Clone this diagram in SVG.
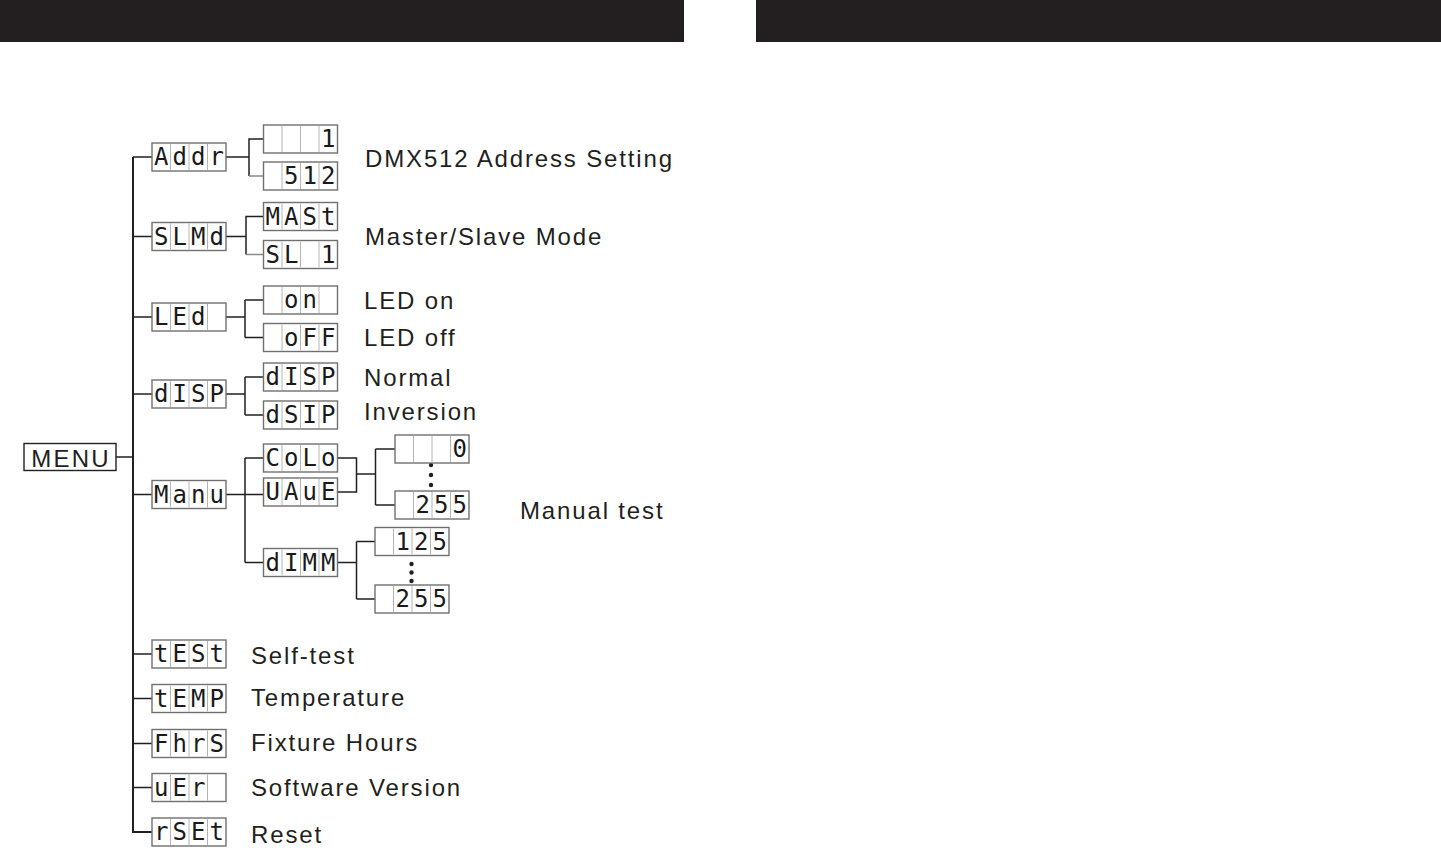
<svg xmlns="http://www.w3.org/2000/svg" xmlns:xlink="http://www.w3.org/1999/xlink" width="1441" height="848" viewBox="0 0 1441 848">
<style>
.bar{fill:#231f20}
.lbl{font-family:"Liberation Sans",Arial,sans-serif;font-size:24px;letter-spacing:1.85px;fill:#231f20}
.seg{font-family:"DejaVu Sans Mono",monospace;font-size:24px;fill:#1a1a1a;text-anchor:middle}
.frame{fill:#fff;stroke:#707070;stroke-width:1.4}
.div{stroke:#b4b4b4;stroke-width:1}
.con{fill:none;stroke:#231f20;stroke-width:1.5}
.con2{fill:none;stroke:#8a8a8a;stroke-width:1.5}
.trunk{fill:none;stroke:#231f20;stroke-width:2}
.dot{fill:#231f20}
</style>
<defs>
<g id="box">
<rect class="frame" x="0" y="0" width="74" height="28"/>
<line class="div" x1="18.5" y1="1" x2="18.5" y2="27"/>
<line class="div" x1="37" y1="1" x2="37" y2="27"/>
<line class="div" x1="55.5" y1="1" x2="55.5" y2="27"/>
</g>
</defs>
<rect class="bar" x="0" y="0" width="684" height="42"/>
<rect class="bar" x="756" y="0" width="685" height="42"/>

<g id="connectors">
<path class="trunk" d="M133 157 V832 H152"/>
<path class="con" d="M116 457 H133"/>
<path class="con" d="M133 157 H152 M133 236.5 H152 M133 317 H152 M133 394 H152 M133 494.5 H152 M133 654 H152 M133 698.5 H152 M133 743.5 H152 M133 787.5 H152"/>
<path class="con" d="M226 157 H249 M249 176 V139 H263.5"/>
<path class="con2" d="M249 176 H263.5"/>
<path class="con" d="M226 236.5 H246 M246 254.5 V216.5 H263.5"/>
<path class="con2" d="M246 254.5 H263.5"/>
<path class="con" d="M226 317 H245 M245 300 V337.5 M245 300 H263.5 M245 337.5 H263.5"/>
<path class="con" d="M226 394 H245 M245 377 V415 M245 377 H263.5 M245 415 H263.5"/>
<path class="con" d="M226 494.5 H263.5 M245 458 V562.5 M245 458 H263.5 M245 562.5 H263.5"/>
<path class="con" d="M337.5 458 H356.5 V492 H337.5 M356.5 474 H375.5 M375.5 449 V505 M375.5 449 H395 M375.5 505 H395"/>
<path class="con" d="M337.5 562.5 H356.5 M356.5 541.5 V599 M356.5 541.5 H375 M356.5 599 H375"/>
<circle class="dot" cx="431" cy="465" r="2.2"/>
<circle class="dot" cx="431" cy="475" r="2.2"/>
<circle class="dot" cx="431" cy="485" r="2.2"/>
<circle class="dot" cx="411.5" cy="564" r="2.2"/>
<circle class="dot" cx="411.5" cy="572.5" r="2.2"/>
<circle class="dot" cx="411.5" cy="581" r="2.2"/>
</g>

<g id="menu">
<rect x="24" y="443.5" width="92" height="27" fill="#fff" stroke="#231f20" stroke-width="1.4"/>
<text class="lbl" x="71" y="466.5" text-anchor="middle" style="font-size:24px;letter-spacing:2.2px">MENU</text>
</g>

<g id="addr"><use xlink:href="#box" x="152" y="143"/><text class="seg" x="161.3 179.8 198.3 216.8" y="165">Addr</text></g>
<g id="addr-1"><use xlink:href="#box" x="263.5" y="125"/><text class="seg" x="328.3" y="147">1</text></g>
<g id="addr-512"><use xlink:href="#box" x="263.5" y="162"/><text class="seg" x="291.3 309.8 328.3" y="184">512</text></g>
<text class="lbl" x="365" y="167">DMX512 Address Setting</text>

<g id="slmd"><use xlink:href="#box" x="152" y="222.5"/><text class="seg" x="161.3 179.8 198.3 216.8" y="244.5">SLMd</text></g>
<g id="mast"><use xlink:href="#box" x="263.5" y="202.5"/><text class="seg" x="272.8 291.3 309.8 328.3" y="224.5">MASt</text></g>
<g id="sl1"><use xlink:href="#box" x="263.5" y="240.5"/><text class="seg" x="272.8 291.3 328.3" y="262.5">SL1</text></g>
<text class="lbl" x="365" y="245">Master/Slave Mode</text>

<g id="led"><use xlink:href="#box" x="152" y="303"/><text class="seg" x="161.3 179.8 198.3" y="325">LEd</text></g>
<g id="on"><use xlink:href="#box" x="263.5" y="286"/><text class="seg" x="291.3 309.8" y="308">on</text></g>
<g id="off"><use xlink:href="#box" x="263.5" y="323.5"/><text class="seg" x="291.3 309.8 328.3" y="345.5">oFF</text></g>
<text class="lbl" x="364" y="309">LED on</text>
<text class="lbl" x="364" y="346">LED off</text>

<g id="disp"><use xlink:href="#box" x="152" y="380"/><text class="seg" x="161.3 179.8 198.3 216.8" y="402">dISP</text></g>
<g id="disp-n"><use xlink:href="#box" x="263.5" y="363"/><text class="seg" x="272.8 291.3 309.8 328.3" y="385">dISP</text></g>
<g id="dsip"><use xlink:href="#box" x="263.5" y="401"/><text class="seg" x="272.8 291.3 309.8 328.3" y="423">dSIP</text></g>
<text class="lbl" x="364" y="386">Normal</text>
<text class="lbl" x="364" y="420">Inversion</text>

<g id="manu"><use xlink:href="#box" x="152" y="480.5"/><text class="seg" x="161.3 179.8 198.3 216.8" y="502.5">Manu</text></g>
<g id="colo"><use xlink:href="#box" x="263.5" y="444"/><text class="seg" x="272.8 291.3 309.8 328.3" y="466">CoLo</text></g>
<g id="uaue"><use xlink:href="#box" x="263.5" y="478"/><text class="seg" x="272.8 291.3 309.8 328.3" y="500">UAuE</text></g>
<g id="dimm"><use xlink:href="#box" x="263.5" y="548.5"/><text class="seg" x="272.8 291.3 309.8 328.3" y="570.5">dIMM</text></g>
<g id="val-0"><use xlink:href="#box" x="395" y="435"/><text class="seg" x="459.8" y="457">0</text></g>
<g id="val-255"><use xlink:href="#box" x="395" y="491"/><text class="seg" x="422.8 441.3 459.8" y="513">255</text></g>
<g id="dim-125"><use xlink:href="#box" x="375" y="527.5"/><text class="seg" x="402.8 421.3 439.8" y="549.5">125</text></g>
<g id="dim-255"><use xlink:href="#box" x="375" y="585"/><text class="seg" x="402.8 421.3 439.8" y="607">255</text></g>
<text class="lbl" x="520" y="519">Manual test</text>

<g id="test"><use xlink:href="#box" x="152" y="640"/><text class="seg" x="161.3 179.8 198.3 216.8" y="662">tESt</text></g>
<text class="lbl" x="251" y="664">Self-test</text>
<g id="temp"><use xlink:href="#box" x="152" y="684.5"/><text class="seg" x="161.3 179.8 198.3 216.8" y="706.5">tEMP</text></g>
<text class="lbl" x="251" y="706">Temperature</text>
<g id="fhrs"><use xlink:href="#box" x="152" y="729.5"/><text class="seg" x="161.3 179.8 198.3 216.8" y="751.5">FhrS</text></g>
<text class="lbl" x="251" y="751">Fixture Hours</text>
<g id="ver"><use xlink:href="#box" x="152" y="773.5"/><text class="seg" x="161.3 179.8 198.3" y="795.5">uEr</text></g>
<text class="lbl" x="251" y="796">Software Version</text>
<g id="rset"><use xlink:href="#box" x="152" y="818"/><text class="seg" x="161.3 179.8 198.3 216.8" y="840">rSEt</text></g>
<text class="lbl" x="251" y="843">Reset</text>
</svg>
